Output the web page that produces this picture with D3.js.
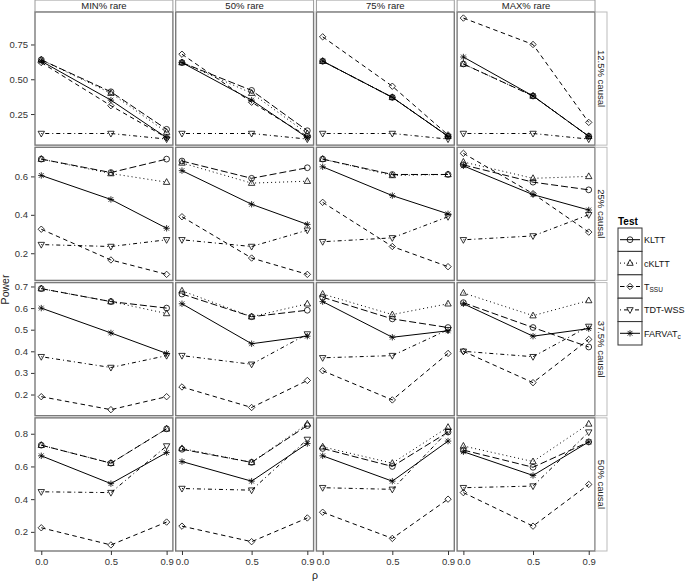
<!DOCTYPE html>
<html><head><meta charset="utf-8">
<script src="https://cdn.jsdelivr.net/npm/d3@7"></script>
<style>body{margin:0;background:#fff} text{font-family:"Liberation Sans",Arial,sans-serif}</style>
</head><body><svg id="c" width="685" height="582"></svg>
<script>
const rho = [0.0, 0.5, 0.9];
const xTicks = [0.0, 0.5, 0.9];
const rareLabels = ["MIN% rare", "50% rare", "75% rare", "MAX% rare"];
const causalLabels = ["12.5% causal", "25% causal", "37.5% causal", "50% causal"];
const yTicks = [[0.25, 0.5, 0.75], [0.2, 0.4, 0.6], [0.2, 0.3, 0.4, 0.5, 0.6, 0.7], [0.2, 0.4, 0.6, 0.8]];
const yTickFmt = [".2f", ".1f", ".1f", ".1f"];
const testNames = ["KLTT", "cKLTT", "TSSU", "TDT-WSS", "FARVAT"];

// values[row = causal][col = rare] = [rho 0.0, 0.5, 0.9]
const kltt = [
  [[0.64,0.41,0.14],[0.62,0.42,0.13],[0.63,0.37,0.09],[0.61,0.38,0.09]],
  [[0.69,0.62,0.69],[0.68,0.59,0.645],[0.69,0.61,0.61],[0.66,0.57,0.53]],
  [[0.69,0.63,0.60],[0.665,0.56,0.59],[0.65,0.55,0.51],[0.625,0.51,0.42]],
  [[0.73,0.62,0.83],[0.705,0.625,0.85],[0.71,0.60,0.81],[0.70,0.595,0.75]]
];
const ckltt = [
  [[0.64,0.40,0.12],[0.62,0.40,0.11],[0.63,0.37,0.09],[0.61,0.38,0.09]],
  [[0.69,0.615,0.57],[0.67,0.565,0.575],[0.69,0.605,0.61],[0.675,0.59,0.60]],
  [[0.69,0.63,0.575],[0.68,0.56,0.62],[0.665,0.57,0.62],[0.67,0.565,0.635]],
  [[0.73,0.62,0.83],[0.71,0.625,0.86],[0.72,0.62,0.84],[0.725,0.63,0.86]]
];
const tssu = [
  [[0.62,0.31,0.08],[0.68,0.335,0.09],[0.805,0.45,0.10],[0.94,0.75,0.19]],
  [[0.325,0.165,0.09],[0.39,0.175,0.09],[0.465,0.235,0.13],[0.72,0.51,0.31]],
  [[0.19,0.13,0.19],[0.235,0.14,0.265],[0.31,0.175,0.39],[0.40,0.255,0.455]],
  [[0.225,0.12,0.26],[0.235,0.14,0.285],[0.32,0.16,0.40],[0.44,0.235,0.49]]
];
const tdtwss = [
  [[0.11,0.11,0.07],[0.11,0.11,0.07],[0.11,0.11,0.07],[0.11,0.11,0.07]],
  [[0.245,0.235,0.27],[0.27,0.235,0.32],[0.26,0.28,0.39],[0.27,0.29,0.40]],
  [[0.375,0.325,0.38],[0.38,0.34,0.48],[0.37,0.38,0.50],[0.40,0.375,0.515]],
  [[0.445,0.44,0.725],[0.465,0.455,0.765],[0.47,0.46,0.815],[0.47,0.48,0.81]]
];
const farvat = [
  [[0.63,0.35,0.08],[0.62,0.35,0.08],[0.63,0.37,0.09],[0.66,0.38,0.09]],
  [[0.605,0.48,0.33],[0.63,0.455,0.35],[0.65,0.50,0.405],[0.655,0.505,0.425]],
  [[0.60,0.485,0.39],[0.62,0.435,0.47],[0.63,0.465,0.495],[0.62,0.47,0.505]],
  [[0.665,0.495,0.685],[0.63,0.51,0.74],[0.665,0.51,0.755],[0.69,0.545,0.75]]
];

const seriesVals = [kltt, ckltt, tssu, tdtwss, farvat];
const dashes = ["7,3", "1,3", "4.5,3.5", "1,3,4,3", null];
const shapes = ["circle", "triUp", "diamond", "triDown", "star"];

const svg = d3.select("#c");
const plotL = 35, plotR = 595, plotT = 12, plotB = 551;
const colBand = d3.scaleBand().domain(d3.range(4)).range([plotL, plotR]).paddingInner(0.02);
const rowBand = d3.scaleBand().domain(d3.range(4)).range([plotT, plotB]).paddingInner(0.016);
const stripTop = 0, stripW = 11.5;

function drawShape(g, type, x, y) {
  const s = 3.2;
  let el;
  if (type === "circle") {
    el = g.append("circle").attr("cx", x).attr("cy", y).attr("r", 2.9);
  } else if (type === "triUp") {
    el = g.append("path").attr("d", `M${x},${y - s * 1.1}L${x + s},${y + s * 0.7}L${x - s},${y + s * 0.7}Z`);
  } else if (type === "triDown") {
    el = g.append("path").attr("d", `M${x},${y + s * 1.1}L${x + s},${y - s * 0.7}L${x - s},${y - s * 0.7}Z`);
  } else if (type === "diamond") {
    el = g.append("path").attr("d", `M${x},${y - s}L${x + s},${y}L${x},${y + s}L${x - s},${y}Z`);
  } else {
    const a = s * 0.75;
    el = g.append("path").attr("d", `M${x - s},${y}H${x + s}M${x},${y - s}V${y + s}M${x - a},${y - a}L${x + a},${y + a}M${x - a},${y + a}L${x + a},${y - a}`);
  }
  el.attr("fill", "none").attr("stroke", "#000").attr("stroke-width", 0.8);
}

for (let r = 0; r < 4; r++) {
  const all = seriesVals.flatMap(s => s[r].flat());
  const [mn, mx] = d3.extent(all);
  const pad = (mx - mn) * 0.05;
  const top = rowBand(r), h = rowBand.bandwidth();
  const y = d3.scaleLinear().domain([mn - pad, mx + pad]).range([top + h, top]);

  const ya = svg.append("g").attr("transform", `translate(${plotL},0)`)
    .call(d3.axisLeft(y).tickValues(yTicks[r]).tickFormat(d3.format(yTickFmt[r])).tickSize(4).tickPadding(3));
  ya.select(".domain").remove();
  ya.selectAll("line").attr("stroke", "#333");
  ya.selectAll("text").attr("font-size", 9.5).attr("fill", "#333").style("font-family", "Liberation Sans, Arial, sans-serif");

  for (let c = 0; c < 4; c++) {
    const left = colBand(c), w = colBand.bandwidth();
    const x = d3.scaleLinear().domain([-0.045, 0.945]).range([left, left + w]);
    const g = svg.append("g");
    g.append("rect").attr("x", left).attr("y", top).attr("width", w).attr("height", h).attr("fill", "#fff");
    const line = d3.line().x((d, i) => x(rho[i])).y(d => y(d));
    seriesVals.forEach((s, k) => {
      const p = g.append("path").attr("d", line(s[r][c])).attr("fill", "none")
        .attr("stroke", "#000").attr("stroke-width", 1);
      if (dashes[k]) p.attr("stroke-dasharray", dashes[k]);
    });
    seriesVals.forEach((s, k) => {
      s[r][c].forEach((v, i) => drawShape(g, shapes[k], x(rho[i]), y(v)));
    });
    g.append("rect").attr("x", left).attr("y", top).attr("width", w).attr("height", h)
      .attr("fill", "none").attr("stroke", "#7a7a7a").attr("stroke-width", 1.4);

    if (r === 3) {
      const xa = svg.append("g").attr("transform", `translate(0,${plotB})`)
        .call(d3.axisBottom(x).tickValues(xTicks).tickFormat(d3.format(".1f")).tickSize(4).tickPadding(3));
      xa.select(".domain").remove();
      xa.selectAll("line").attr("stroke", "#333");
      xa.selectAll("text").attr("font-size", 9.5).attr("fill", "#333").style("font-family", "Liberation Sans, Arial, sans-serif");
    }
    if (r === 0) {
      svg.append("rect").attr("x", left).attr("y", stripTop).attr("width", w).attr("height", stripW)
        .attr("fill", "#fff").attr("stroke", "#9a9a9a").attr("stroke-width", 1);
      svg.append("text").attr("x", left + w / 2).attr("y", stripTop + 9).attr("text-anchor", "middle")
        .attr("font-size", 9.5).attr("fill", "#222").text(rareLabels[c]);
    }
  }
  svg.append("rect").attr("x", plotR + 0.5).attr("y", top).attr("width", stripW).attr("height", h)
    .attr("fill", "#fff").attr("stroke", "#bbb").attr("stroke-width", 1);
  svg.append("text").attr("transform", `translate(${plotR + 3},${top + h / 2}) rotate(90)`)
    .attr("text-anchor", "middle").attr("font-size", 9.5).attr("fill", "#222").text(causalLabels[r]);
}

svg.append("text").attr("transform", `translate(9,${(plotT + plotB) / 2 + 8}) rotate(-90)`)
  .attr("text-anchor", "middle").attr("font-size", 10.5).attr("fill", "#222").text("Power");
svg.append("text").attr("x", (plotL + plotR) / 2).attr("y", 579).attr("text-anchor", "middle")
  .attr("font-size", 10.5).attr("fill", "#222").text("ρ");

const lg = svg.append("g");
const lx = 618, ly = 228, kw = 24, kh = 23.4;
lg.append("text").attr("x", lx).attr("y", ly - 3).attr("font-size", 10).attr("font-weight", "bold").text("Test");
testNames.forEach((nm, k) => {
  const yy = ly + k * kh;
  lg.append("rect").attr("x", lx).attr("y", yy).attr("width", kw).attr("height", kh)
    .attr("fill", "#fff").attr("stroke", "#333").attr("stroke-width", 1);
  const p = lg.append("line").attr("x1", lx + 2).attr("x2", lx + kw - 2).attr("y1", yy + kh / 2).attr("y2", yy + kh / 2)
    .attr("stroke", "#000").attr("stroke-width", 1);
  if (dashes[k]) p.attr("stroke-dasharray", k === 0 ? "20,0" : dashes[k]);
  drawShape(lg, shapes[k], lx + kw / 2, yy + kh / 2);
  const t = lg.append("text").attr("x", lx + kw + 2).attr("y", yy + kh / 2 + 3.5).attr("font-size", 9).attr("fill", "#111");
  if (nm === "TSSU") {
    t.append("tspan").text("T");
    t.append("tspan").attr("font-size", 6.5).attr("dy", 2).text("SSU");
  } else if (nm === "FARVAT") {
    t.append("tspan").text("FARVAT");
    t.append("tspan").attr("font-size", 6.5).attr("dy", 2).text("c");
  } else {
    t.text(nm);
  }
});
</script></body></html>
